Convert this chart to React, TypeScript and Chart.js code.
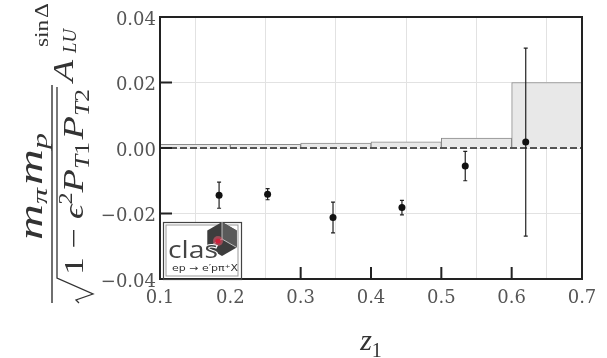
import React, { useEffect, useRef } from 'react';
import { Chart, registerables } from 'chart.js';

Chart.register(...registerables);

// ---- data ----
const binCenters = [0.15, 0.25, 0.35, 0.45, 0.55, 0.65];
const systematics = [0.0011, 0.0011, 0.0015, 0.0019, 0.003, 0.02];
const zValues = [0.184, 0.253, 0.346, 0.444, 0.534, 0.62];
const asymValues = [-0.0144, -0.0141, -0.0212, -0.0182, -0.0055, 0.0018];
const statErrors = [0.004, 0.0017, 0.0047, 0.0022, 0.0045, 0.0287];
const innerXTicks = [0.2, 0.3, 0.4, 0.5, 0.6];
const innerYTicks = [-0.02, 0, 0.02];

const SERIF = '"DejaVu Serif", serif';
const MATH = '"Liberation Serif", serif';

type Run = { t: string; size: number; italic?: boolean; dy?: number; family?: string };

function runFont(r: Run) {
  return `${r.italic ? 'italic ' : ''}${r.size}px ${r.family || MATH}`;
}

function drawRuns(ctx: CanvasRenderingContext2D, runs: Run[], x: number, baseline: number, target: number) {
  let w = 0;
  for (const r of runs) {
    ctx.font = runFont(r);
    w += ctx.measureText(r.t).width;
  }
  const s = target / w;
  ctx.save();
  ctx.translate(x, baseline);
  ctx.scale(s, 1);
  let cx = 0;
  for (const r of runs) {
    ctx.font = runFont(r);
    ctx.fillText(r.t, cx, r.dy || 0);
    cx += ctx.measureText(r.t).width;
  }
  ctx.restore();
}

const decorPlugin = {
  id: 'decor',
  beforeDatasetDraw(chart: any, args: any) {
    if (args.index !== 0) return;
    const ctx: CanvasRenderingContext2D = chart.ctx;
    const xs = chart.scales.x;
    const ys = chart.scales.y;
    const area = chart.chartArea;
    ctx.save();
    // dashed zero line
    ctx.strokeStyle = '#222';
    ctx.lineWidth = 1.5;
    ctx.setLineDash([7, 3]);
    ctx.beginPath();
    const y0 = ys.getPixelForValue(0);
    ctx.moveTo(area.left, y0);
    ctx.lineTo(area.right, y0);
    ctx.stroke();
    ctx.setLineDash([]);
    // error bars
    ctx.strokeStyle = '#222';
    ctx.lineWidth = 1.2;
    for (let i = 0; i < zValues.length; i++) {
      const px = xs.getPixelForValue(zValues[i]);
      const top = ys.getPixelForValue(asymValues[i] + statErrors[i]);
      const bot = ys.getPixelForValue(asymValues[i] - statErrors[i]);
      ctx.beginPath();
      ctx.moveTo(px, top);
      ctx.lineTo(px, bot);
      ctx.moveTo(px - 2, top);
      ctx.lineTo(px + 2, top);
      ctx.moveTo(px - 2, bot);
      ctx.lineTo(px + 2, bot);
      ctx.stroke();
    }
    ctx.restore();
  },
  afterDraw(chart: any) {
    const ctx: CanvasRenderingContext2D = chart.ctx;
    const xs = chart.scales.x;
    const ys = chart.scales.y;
    const area = chart.chartArea;
    ctx.save();
    // inner ticks
    ctx.strokeStyle = '#222';
    ctx.lineWidth = 2;
    ctx.beginPath();
    for (const v of innerYTicks) {
      const py = ys.getPixelForValue(v);
      ctx.moveTo(area.left, py);
      ctx.lineTo(area.left + 12, py);
    }
    for (const v of innerXTicks) {
      const px = xs.getPixelForValue(v);
      ctx.moveTo(px, area.bottom);
      ctx.lineTo(px, area.bottom - 12);
    }
    ctx.stroke();
    // frame
    ctx.lineWidth = 2;
    ctx.strokeRect(area.left, area.top, area.right - area.left, area.bottom - area.top);

    // logo
    const L = area.left + 3;
    const B = area.bottom;
    const T = B - 57;
    ctx.fillStyle = '#fff';
    ctx.fillRect(L, T, 78, 56);
    ctx.strokeStyle = '#444';
    ctx.lineWidth = 1.2;
    ctx.strokeRect(L + 0.5, T + 0.5, 78, 57);
    ctx.strokeStyle = '#999';
    ctx.lineWidth = 1;
    ctx.strokeRect(L + 3, T + 3, 72, 51);
    // hexagon
    const hx = L + 59;
    const hy = T + 17;
    const hr = 17;
    const pts: [number, number][] = [];
    for (let k = 0; k < 6; k++) {
      const a = (-90 + 60 * k) * Math.PI / 180;
      pts.push([hx + hr * Math.cos(a), hy + hr * Math.sin(a)]);
    }
    ctx.fillStyle = '#3d3d3d';
    ctx.beginPath();
    pts.forEach((p, k) => (k ? ctx.lineTo(p[0], p[1]) : ctx.moveTo(p[0], p[1])));
    ctx.closePath();
    ctx.fill();
    ctx.fillStyle = '#5a5a5a';
    ctx.beginPath();
    ctx.moveTo(hx, hy);
    ctx.lineTo(pts[0][0], pts[0][1]);
    ctx.lineTo(pts[1][0], pts[1][1]);
    ctx.lineTo(pts[2][0], pts[2][1]);
    ctx.closePath();
    ctx.fill();
    ctx.strokeStyle = '#ddd';
    ctx.lineWidth = 0.8;
    ctx.beginPath();
    [0, 2, 4].forEach((k) => {
      ctx.moveTo(hx, hy);
      ctx.lineTo(pts[k][0], pts[k][1]);
    });
    ctx.stroke();
    ctx.fillStyle = 'rgba(235,90,110,0.55)';
    ctx.beginPath();
    ctx.arc(hx - 4, hy + 2, 5, 0, Math.PI * 2);
    ctx.fill();
    ctx.fillStyle = '#d0203a';
    ctx.beginPath();
    ctx.arc(hx - 4, hy + 2, 2.6, 0, Math.PI * 2);
    ctx.fill();
    // clas text
    ctx.textAlign = 'left';
    ctx.textBaseline = 'alphabetic';
    ctx.fillStyle = '#444';
    ctx.strokeStyle = '#fff';
    ctx.lineWidth = 2;
    ctx.font = '23px "Open Sans", sans-serif';
    {
      const tw = ctx.measureText('clas').width;
      ctx.save();
      ctx.translate(L + 5, T + 36);
      ctx.scale(50 / tw, 1);
      ctx.strokeText('clas', 0, 0);
      ctx.fillText('clas', 0, 0);
      ctx.restore();
    }
    ctx.fillStyle = '#333';
    drawRuns(ctx, [{ t: 'ep → e′pπ⁺X', size: 9, family: '"DejaVu Sans", sans-serif' }], L + 9, T + 49, 66);

    // x-axis title
    ctx.fillStyle = '#333';
    const cxm = (area.left + area.right) / 2;
    ctx.font = `italic 30px ${MATH}`;
    const zw = ctx.measureText('z').width;
    ctx.font = `20px ${MATH}`;
    const ow = ctx.measureText('1').width;
    const startX = cxm - (zw + ow) / 2;
    ctx.font = `italic 30px ${MATH}`;
    ctx.fillText('z', startX, area.bottom + 71);
    ctx.font = `20px ${MATH}`;
    ctx.fillText('1', startX + zw, area.bottom + 78);

    // y-axis title (rotated fraction)
    ctx.save();
    ctx.translate(area.left - 108, area.bottom + 24);
    ctx.rotate(-Math.PI / 2);
    ctx.fillStyle = '#333';
    ctx.strokeStyle = '#333';
    ctx.fillRect(0, -0.7, 218, 1.4);
    // numerator
    drawRuns(ctx, [
      { t: 'm', size: 34, italic: true },
      { t: 'π', size: 22, italic: true, dy: 5 },
      { t: ' ', size: 8 },
      { t: 'm', size: 34, italic: true },
      { t: 'p', size: 22, italic: true, dy: 5 },
    ], 63, -10, 107);
    // radical
    ctx.lineWidth = 1.3;
    ctx.beginPath();
    ctx.moveTo(0, 27);
    ctx.lineTo(3, 24);
    ctx.lineTo(9, 41);
    ctx.lineTo(25, 5);
    ctx.lineTo(216, 5);
    ctx.stroke();
    // denominator
    drawRuns(ctx, [
      { t: '1', size: 28 },
      { t: ' − ', size: 28 },
      { t: 'ϵ', size: 28, italic: true },
      { t: '2', size: 19, dy: -11 },
      { t: 'P', size: 30, italic: true },
      { t: 'T', size: 20, italic: true, dy: 6 },
      { t: '1', size: 20, dy: 6 },
      { t: ' ', size: 8 },
      { t: 'P', size: 30, italic: true },
      { t: 'T', size: 20, italic: true, dy: 6 },
      { t: '2', size: 20, dy: 6 },
    ], 28, 31, 186);
    // A_LU^{sin Δ}
    drawRuns(ctx, [{ t: 'A', size: 29, italic: true }], 221, 21, 22);
    drawRuns(ctx, [{ t: 'LU', size: 19, italic: true }], 250, 24, 24);
    drawRuns(ctx, [{ t: 'sin', size: 19 }, { t: ' ', size: 6 }, { t: 'Δ', size: 19 }], 256, -4, 44);
    ctx.restore();

    ctx.restore();
  },
};

function fmtY(v: number) {
  if (Math.abs(v) < 1e-9) return '0.00';
  const s = Math.abs(v).toFixed(2);
  return v < 0 ? '\u2212' + s : s;
}

export default function App() {
  const ref = useRef<HTMLCanvasElement | null>(null);
  useEffect(() => {
    if (!ref.current) return;
    const chart = new Chart(ref.current, {
      type: 'scatter',
      data: {
        datasets: [
          {
            type: 'scatter',
            data: zValues.map((z, i) => ({ x: z, y: asymValues[i] })),
            pointRadius: 3.5,
            pointBackgroundColor: '#111',
            pointBorderWidth: 0,
            backgroundColor: '#111',
          } as any,
          {
            type: 'bar',
            data: binCenters.map((c, i) => ({ x: c, y: systematics[i] })),
            backgroundColor: '#e8e8e8',
            borderColor: '#8a8a8a',
            borderWidth: 1,
            barPercentage: 1,
            categoryPercentage: 1,
            grouped: false,
          } as any,
        ],
      },
      options: {
        responsive: false,
        animation: false,
        events: [],
        layout: { padding: { top: 17, right: 25, left: 0, bottom: 0 } },
        plugins: { legend: { display: false }, tooltip: { enabled: false } },
        scales: {
          x: {
            type: 'linear',
            min: 0.1,
            max: 0.7,
            offset: false,
            grid: { color: '#e2e2e2', lineWidth: 1, drawTicks: false },
            border: { display: false },
            ticks: {
              stepSize: 0.1,
              padding: 9,
              color: '#555',
              font: { family: SERIF, size: 18 },
              callback: (v: any) => Number(v).toFixed(1),
            },
            afterFit: (s: any) => { s.height = 79; },
          },
          y: {
            type: 'linear',
            min: -0.04,
            max: 0.04,
            grid: { color: '#e2e2e2', lineWidth: 1, drawTicks: false },
            border: { display: false },
            ticks: {
              stepSize: 0.02,
              padding: 4,
              labelOffset: 3,
              color: '#555',
              font: { family: SERIF, size: 18 },
              callback: (v: any) => fmtY(Number(v)),
            },
            afterFit: (s: any) => { s.width = 160; },
          },
        },
      } as any,
      plugins: [decorPlugin],
    });
    return () => chart.destroy();
  }, []);
  return (
    <div style={{ position: 'absolute', left: 0, top: 0, width: 607, height: 358, background: '#fff' }}>
      <canvas ref={ref} width={607} height={358} />
    </div>
  );
}
